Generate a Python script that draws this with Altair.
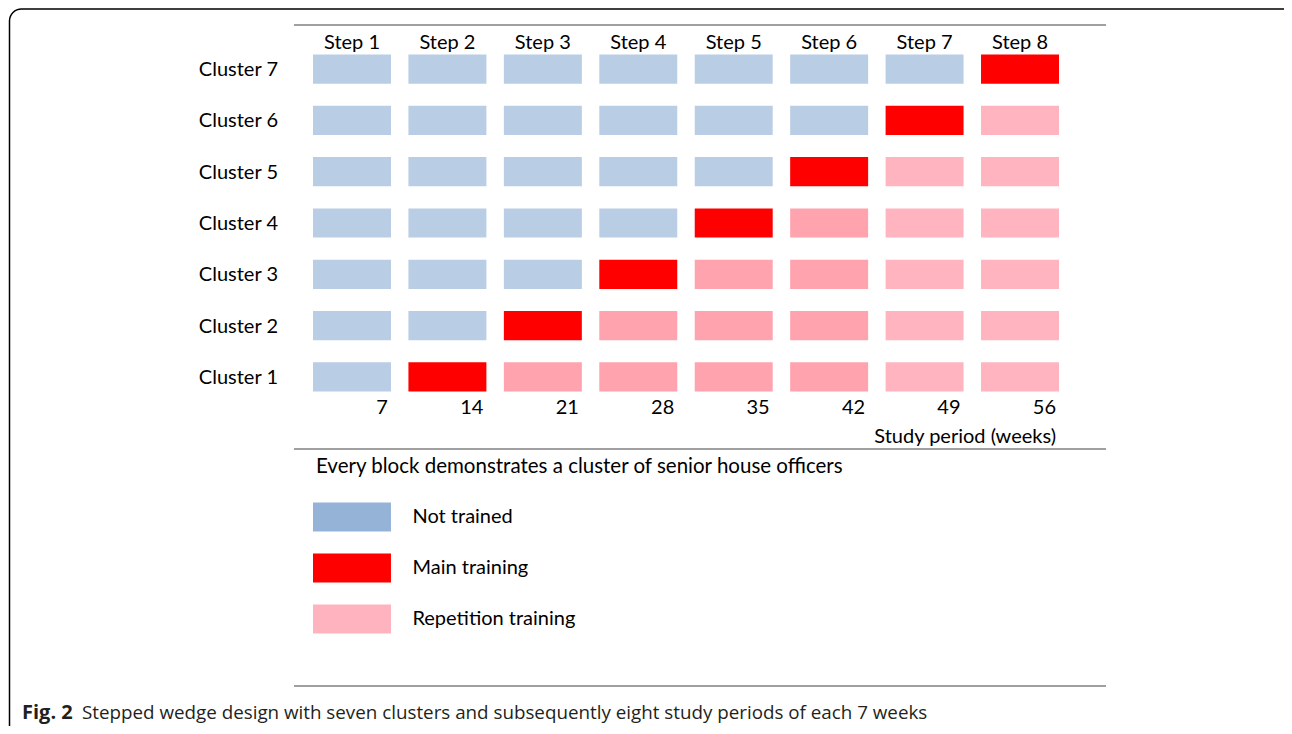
import altair as alt
import pandas as pd

# ---- data ----
clusters = ["Cluster 7", "Cluster 6", "Cluster 5", "Cluster 4", "Cluster 3", "Cluster 2", "Cluster 1"]
steps = ["Step 1", "Step 2", "Step 3", "Step 4", "Step 5", "Step 6", "Step 7", "Step 8"]
weeks = ["7", "14", "21", "28", "35", "42", "49", "56"]
# N = not trained, M = main training, R = repetition training, r = repetition training (lighter shade)
grid = [
    ["N", "N", "N", "N", "N", "N", "N", "M"],
    ["N", "N", "N", "N", "N", "N", "M", "r"],
    ["N", "N", "N", "N", "N", "M", "r", "r"],
    ["N", "N", "N", "N", "M", "R", "r", "r"],
    ["N", "N", "N", "M", "R", "R", "r", "r"],
    ["N", "N", "M", "R", "R", "R", "r", "r"],
    ["N", "M", "R", "R", "R", "R", "r", "r"],
]
state_codes = ["N", "M", "R", "r"]
state_colors = ["#B9CDE5", "#FF0000", "#FFA3AF", "#FFB4C0"]
legend_items = ["Not trained", "Main training", "Repetition training"]
legend_colors = ["#95B3D7", "#FF0000", "#FFB3BF"]
header = "Every block demonstrates a cluster of senior house officers"
axis_title = "Study period (weeks)"
caption_bold = "Fig. 2"
caption_text = "Stepped wedge design with seven clusters and subsequently eight study periods of each 7 weeks"

FONT = "Lato"
FS = 20

cells = pd.DataFrame(
    [{"cluster": c, "step": s, "state": grid[i][j]}
     for i, c in enumerate(clusters) for j, s in enumerate(steps)]
)

xscale = alt.Scale(type="band", domain=steps, range=[305, 1051], paddingInner=0.183, paddingOuter=0)
yscale = alt.Scale(type="band", domain=clusters, range=[46.5, 383.5], paddingInner=0.43, paddingOuter=0)
lscale = alt.Scale(type="band", domain=legend_items, range=[494.5, 625.5], paddingInner=0.43, paddingOuter=0)

one = pd.DataFrame({"a": [0]})

cell_layer = alt.Chart(cells).mark_rect().encode(
    x=alt.X("step:N", scale=xscale, axis=None),
    y=alt.Y("cluster:N", scale=yscale, axis=None),
    color=alt.Color("state:N", scale=alt.Scale(domain=state_codes, range=state_colors), legend=None),
)

cluster_labels = alt.Chart(pd.DataFrame({"cluster": clusters})).mark_text(
    align="right", baseline="middle", font=FONT, fontSize=FS, color="#000", dy=1
).encode(
    x=alt.value(270),
    y=alt.Y("cluster:N", scale=yscale, axis=None, bandPosition=0.5),
    text="cluster:N",
)

step_labels = alt.Chart(pd.DataFrame({"step": steps})).mark_text(
    align="center", baseline="middle", font=FONT, fontSize=FS, color="#000"
).encode(
    x=alt.X("step:N", scale=xscale, axis=None, bandPosition=0.5),
    y=alt.value(35),
    text="step:N",
)

week_labels = alt.Chart(pd.DataFrame({"step": steps, "week": weeks})).mark_text(
    align="right", baseline="middle", font=FONT, fontSize=FS, color="#000", dx=-3
).encode(
    x=alt.X("step:N", scale=xscale, axis=None, bandPosition=1),
    y=alt.value(400),
    text="week:N",
)

axis_label = alt.Chart(pd.DataFrame({"step": [steps[-1]], "t": [axis_title]})).mark_text(
    align="right", baseline="middle", font=FONT, fontSize=FS, color="#000", dx=-3
).encode(
    x=alt.X("step:N", scale=xscale, axis=None, bandPosition=1),
    y=alt.value(429),
    text="t:N",
)

leg = pd.DataFrame({"item": legend_items, "step": [steps[0]] * 3, "lstep": [steps[1]] * 3})

legend_swatches = alt.Chart(leg).mark_rect().encode(
    x=alt.X("step:N", scale=xscale, axis=None),
    y=alt.Y("item:N", scale=lscale, axis=None),
    color=alt.Color("item:N", scale=alt.Scale(domain=legend_items, range=legend_colors), legend=None),
)

legend_labels = alt.Chart(leg).mark_text(
    align="left", baseline="middle", font=FONT, fontSize=FS, color="#000", dx=4
).encode(
    x=alt.X("lstep:N", scale=xscale, axis=None, bandPosition=0),
    y=alt.Y("item:N", scale=lscale, axis=None, bandPosition=0.5),
    text="item:N",
)

header_text = alt.Chart(pd.DataFrame({"t": [header]})).mark_text(
    align="left", baseline="middle", font=FONT, fontSize=20.5, color="#000"
).encode(x=alt.value(308), y=alt.value(459), text="t:N")


def hline(y):
    return alt.Chart(one).mark_rule(color="#808080", strokeWidth=1.5).encode(
        x=alt.value(286), x2=alt.value(1098), y=alt.value(y)
    )


border = alt.Chart(one).mark_rect(
    cornerRadius=12, fillOpacity=0, stroke="#000000", strokeWidth=1.5
).encode(x=alt.value(1.5), x2=alt.value(1320), y=alt.value(1), y2=alt.value(760))

cap_bold = alt.Chart(pd.DataFrame({"t": [caption_bold]})).mark_text(
    align="left", baseline="middle", font="Open Sans", fontSize=20, fontWeight="bold", color="#231F20"
).encode(x=alt.value(14), y=alt.value(705), text="t:N")

cap_text = alt.Chart(pd.DataFrame({"t": [caption_text]})).mark_text(
    align="left", baseline="middle", font="Open Sans", fontSize=18.8, color="#231F20"
).encode(x=alt.value(74), y=alt.value(705), text="t:N")

chart = alt.layer(
    border,
    hline(17), hline(441), hline(678),
    cell_layer, cluster_labels, step_labels, week_labels, axis_label,
    legend_swatches, legend_labels, header_text,
    cap_bold, cap_text,
).resolve_scale(y="independent", color="independent").properties(
    width=1276, height=718, autosize="none", padding=0, background="white"
).configure_view(stroke=None)

chart.save("out.html", embed_options={"renderer": "svg", "actions": False})
